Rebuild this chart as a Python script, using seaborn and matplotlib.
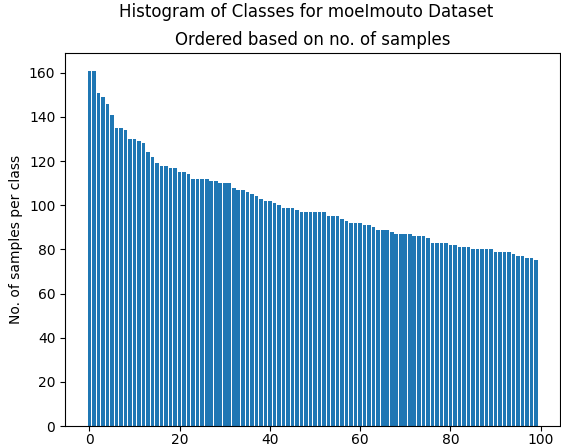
import matplotlib
matplotlib.use("Agg")
import matplotlib.pyplot as plt
import seaborn as sns
import pandas as pd

# samples per class, already sorted in descending order
class_idx = list(range(100))
samples = [
    161, 161, 151, 149, 146, 141, 135, 135, 134, 130,
    130, 129, 128, 124, 122, 119, 118, 118, 117, 117,
    115, 115, 114, 112, 112, 112, 112, 111, 111, 110,
    110, 110, 108, 107, 107, 106, 105, 104, 103, 102,
    102, 101, 100, 99, 99, 99, 98, 97, 97, 97,
    97, 97, 97, 95, 95, 95, 94, 93, 92, 92,
    92, 91, 91, 90, 89, 89, 89, 88, 87, 87,
    87, 87, 86, 86, 86, 85, 83, 83, 83, 83,
    82, 82, 81, 81, 81, 80, 80, 80, 80, 80,
    79, 79, 79, 79, 78, 77, 77, 76, 76, 75,
]

df = pd.DataFrame({'class': class_idx, 'samples': samples})

fig, ax = plt.subplots(figsize=(5.61, 4.48), dpi=100)
fig.subplots_adjust(left=0.116, right=0.999, top=0.882, bottom=0.049)

sns.barplot(data=df, x='class', y='samples', native_scale=True,
            color='#1f77b4', saturation=1, width=0.8, ax=ax)

ax.set_xlim(-5.39, 104.39)
ax.set_xticks([0, 20, 40, 60, 80, 100])
ax.tick_params(axis='x', pad=1.5)
ax.set_xlabel('')
ax.set_ylabel('No. of samples per class')
ax.set_title('Ordered based on no. of samples', fontsize=12, pad=6)
fig.suptitle('Histogram of Classes for moeImouto Dataset', fontsize=12,
             x=0.545, y=0.993)

plt.savefig('out.png', dpi=100)
